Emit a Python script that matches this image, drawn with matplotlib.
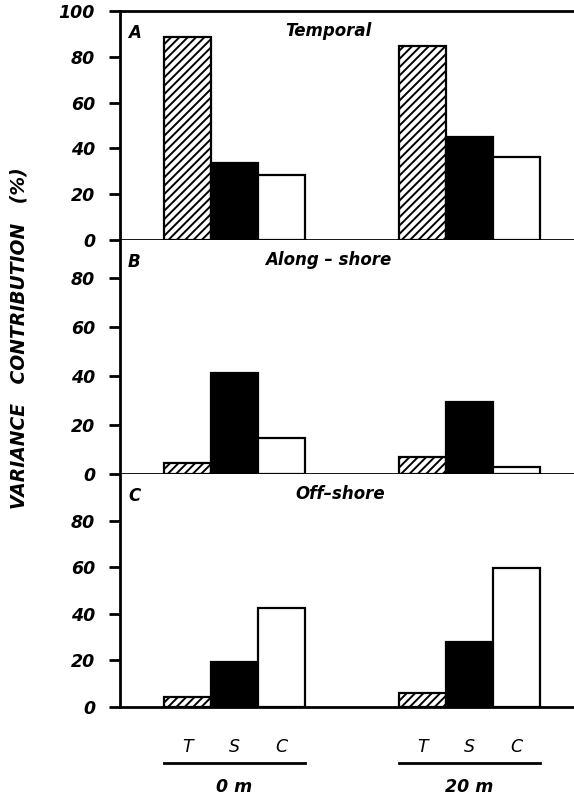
import matplotlib
matplotlib.use("Agg")
import matplotlib.pyplot as plt
from matplotlib.transforms import blended_transform_factory
from matplotlib.lines import Line2D

# ---- data ----
components = ["T", "S", "C"]
depths = ["0 m", "20 m"]
panel_letters = ["A", "B", "C"]
panel_titles = ["Temporal", "Along \u2013 shore", "Off\u2013shore"]
temporal_0m = [88.5, 33.8, 28.2]
temporal_20m = [84.8, 44.8, 36.4]
along_0m = [4.5, 41.5, 14.6]
along_20m = [7.0, 29.4, 3.0]
off_0m = [4.2, 19.2, 42.6]
off_20m = [6.0, 27.8, 59.8]
yticks_a = [0, 20, 40, 60, 80, 100]
yticks_bc = [0, 20, 40, 60, 80]

panel_values = [(temporal_0m, temporal_20m), (along_0m, along_20m), (off_0m, off_20m)]

plt.rcParams['hatch.linewidth'] = 1.4
plt.rcParams['font.family'] = ['DejaVu Sans']

W, H = 574, 798
fig = plt.figure(figsize=(W / 100, H / 100), dpi=100)

left = 120 / W
# (bottom_px, top_px, ymax)
geoms = [(240, 11, 100), (474, 240, 95.7), (707, 474, 100.2)]
group_x = [[0, 1, 2], [5, 6, 7]]
styles = [dict(facecolor="white", hatch="////", edgecolor="black"),
          dict(facecolor="black", edgecolor="black"),
          dict(facecolor="white", edgecolor="black")]
title_x_px = [328, 328, 340]

axes = []
for i, (bpx, tpx, ymax) in enumerate(geoms):
    ax = fig.add_axes([left, 1 - bpx / H, 1 - left, (bpx - tpx) / H])
    axes.append(ax)
    vals = panel_values[i]
    for g in range(2):
        for k in range(3):
            ax.bar(group_x[g][k], vals[g][k], width=1.0, linewidth=1.6,
                   zorder=3, **styles[k])
    ax.set_xlim(-1.43, 8.23)
    ax.set_ylim(0, ymax)
    ax.set_yticks(yticks_a if i == 0 else yticks_bc)
    ax.set_xticks([])
    ax.spines['right'].set_visible(False)
    ax.spines['top'].set_visible(i == 0)
    for s in ['left', 'bottom', 'top']:
        ax.spines[s].set_linewidth(2.0)
    ax.tick_params(axis='y', direction='out', length=8, width=2.0, pad=10,
                   labelsize=12.5)
    for lab in ax.get_yticklabels():
        lab.set_fontstyle('italic')
        lab.set_fontweight('bold')
    tr_ax = blended_transform_factory(fig.transFigure, fig.transFigure)
    ax.text(128 / W, 1 - (tpx + 22) / H, panel_letters[i], transform=tr_ax,
            fontsize=12, fontstyle='italic', fontweight='bold', va='center')
    ax.text(title_x_px[i] / W, 1 - (tpx + 20) / H, panel_titles[i], transform=tr_ax,
            fontsize=12, fontstyle='italic', fontweight='bold',
            va='center', ha='center')

# y label
fig.text(19 / W, 1 - 338 / H, "VARIANCE   CONTRIBUTION   (%)", rotation=90,
         fontsize=13.5, fontstyle='italic', fontweight='bold', ha='center', va='center')

# category labels under panel C
axc = axes[2]
tr = blended_transform_factory(axc.transData, fig.transFigure)
for g in range(2):
    for k in range(3):
        axc.text(group_x[g][k], 1 - 747 / H, components[k], transform=tr,
                 ha='center', va='center', fontsize=12.5, fontstyle='italic')
    x0, x1 = group_x[g][0] - 0.5, group_x[g][-1] + 0.5
    fig.add_artist(Line2D([x0, x1], [1 - 763 / H, 1 - 763 / H], transform=tr,
                          color='black', linewidth=2.0))
    axc.text(group_x[g][1], 1 - 787 / H, depths[g], transform=tr,
             ha='center', va='center', fontsize=12.5, fontstyle='italic',
             fontweight='bold')

fig.savefig("out.png", dpi=100)
